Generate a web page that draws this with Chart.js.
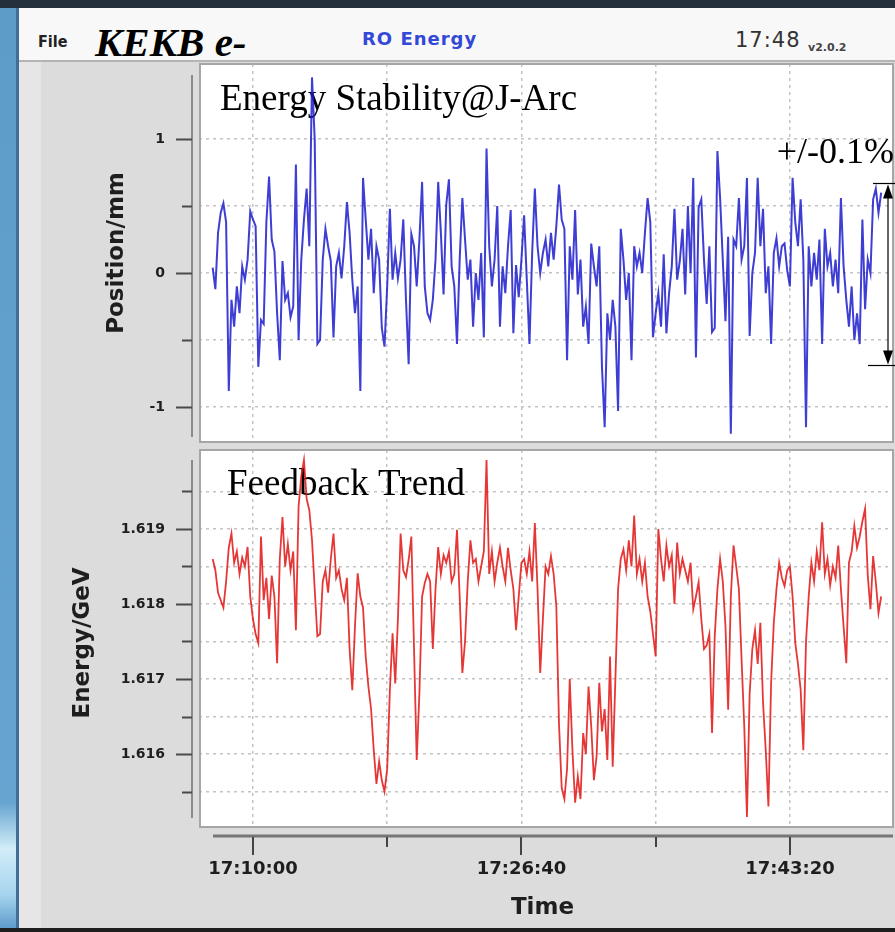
<!DOCTYPE html>
<html>
<head>
<meta charset="utf-8">
<title>KEKB e- RO Energy</title>
<script src="https://cdn.jsdelivr.net/npm/chart.js@4.4.1/dist/chart.umd.min.js"></script>
<style>
  html, body { margin: 0; padding: 0; }
  body { width: 895px; height: 932px; position: relative; overflow: hidden; background: #dcdcdc; font-family: "DejaVu Sans", sans-serif; }
  #topEdge { position: absolute; left: 0; top: 0; width: 895px; height: 8px; background: #24313d; }
  #leftEdge { position: absolute; left: 0; top: 8px; width: 16px; height: 924px;
    background: linear-gradient(to bottom, #5d9bc9 0%, #67a4d0 86%, #d2edf8 91%, #a6d4ee 96%, #5595c6 100%); }
  #leftLine { position: absolute; left: 16px; top: 8px; width: 3px; height: 924px; background: #3f6f97; }
  #bottomEdge { position: absolute; left: 0; top: 928px; width: 895px; height: 4px; background: #1e1e1e; }
  #titleBar { position: absolute; left: 19px; top: 8px; width: 876px; height: 52px; background: #f8f8f8; border-bottom: 2px solid #b4b4b4; }
  #sideStrip { position: absolute; left: 19px; top: 62px; width: 22px; height: 866px; background: #e6e6e6; }
  .tb { position: absolute; line-height: 1; white-space: nowrap; }
  #fileMenu { left: 38px; top: 32px; font: bold 16px "DejaVu Sans Condensed", "DejaVu Sans", sans-serif; color: #222; }
  #machine { left: 95px; top: 18px; font: italic bold 41px "Liberation Serif", "Times New Roman", serif; color: #000; }
  #panelName { left: 362px; top: 28px; font: bold 18px "DejaVu Sans", sans-serif; letter-spacing: 1px; color: #3348d6; }
  #clock { left: 735px; top: 28px; font: 21px "DejaVu Sans", sans-serif; letter-spacing: 1px; color: #333; }
  #version { left: 808px; top: 41px; font: bold 11px "DejaVu Sans", sans-serif; color: #444; }
  .box { position: absolute; left: 20px; }
  #posBox { top: 62px; }
  #energyBox { top: 446px; }
</style>
</head>
<body>
<div id="topEdge"></div>
<div id="titleBar"></div>
<div id="sideStrip"></div>
<div id="leftEdge"></div>
<div id="leftLine"></div>
<div id="bottomEdge"></div>
<span class="tb" id="fileMenu">File</span>
<span class="tb" id="machine">KEKB e-</span>
<span class="tb" id="panelName">RO Energy</span>
<span class="tb" id="clock">17:48</span>
<span class="tb" id="version">v2.0.2</span>

<div class="box" id="posBox"><canvas id="posChart" width="875" height="384"></canvas></div>
<div class="box" id="energyBox"><canvas id="energyChart" width="875" height="486"></canvas></div>

<script>
// sampling: seconds after 17:00:00, one reading every 10 s
const sampleStart = 450;
const sampleStep = 10;

// beam position at the J-Arc (mm)
const positionMm = [
  0.04, -0.12, 0.30, 0.45, 0.52, 0.38, -0.88, -0.20, -0.40, -0.10,
  -0.30, 0.05, -0.05, 0.10, 0.46, 0.40, 0.35, -0.70, -0.35, -0.38,
  0.38, 0.72, 0.25, 0.16, -0.30, -0.65, 0.09, -0.20, -0.15, -0.33,
  -0.25, 0.81, -0.50, 0.10, 0.40, 0.63, 0.20, 1.46, 1.00, -0.53,
  -0.50, 0.10, 0.33, 0.20, 0.09, -0.48, 0.05, 0.15, -0.04, 0.20,
  0.53, 0.30, -0.05, -0.30, -0.10, -0.88, 0.71, 0.40, 0.10, 0.33,
  -0.15, 0.20, 0.10, -0.41, -0.55, -0.10, 0.48, -0.05, 0.15, -0.04,
  0.10, 0.40, -0.20, -0.68, 0.29, 0.20, -0.10, 0.25, 0.68, -0.10,
  -0.30, -0.35, -0.20, 0.10, 0.68, 0.30, -0.16, 0.51, 0.70, 0.05,
  -0.10, -0.53, 0.10, 0.56, 0.25, -0.05, 0.10, -0.40, 0.00, -0.20,
  0.15, -0.48, 0.93, 0.20, -0.10, 0.10, 0.50, -0.40, 0.05, -0.15,
  0.20, 0.47, -0.45, 0.06, -0.18, 0.10, 0.43, -0.05, -0.53, 0.15,
  0.63, 0.20, 0.00, 0.15, 0.25, 0.05, 0.30, 0.10, 0.35, 0.66,
  0.40, 0.33, -0.65, 0.20, -0.05, 0.47, -0.16, 0.10, -0.40, -0.25,
  -0.53, 0.22, 0.05, -0.10, 0.20, -0.70, -1.15, -0.30, -0.50, -0.20,
  -0.40, -1.03, 0.33, 0.10, -0.20, 0.00, -0.65, 0.20, 0.05, 0.15,
  0.00, 0.30, 0.56, 0.38, -0.48, -0.30, -0.15, -0.40, 0.14, -0.45,
  -0.15, 0.05, 0.48, -0.05, 0.09, 0.33, -0.16, 0.50, 0.00, 0.71,
  -0.63, 0.49, 0.55, 0.10, -0.23, 0.20, -0.44, -0.41, 0.91, 0.56,
  0.10, -0.36, 0.27, -1.20, 0.25, 0.20, 0.56, 0.10, 0.20, 0.71,
  -0.47, 0.00, 0.15, 0.71, 0.20, 0.48, -0.15, 0.05, -0.53, 0.15,
  0.26, 0.05, 0.20, 0.22, 0.02, -0.10, 0.71, 0.38, 0.20, 0.55,
  0.10, -1.15, 0.20, -0.10, 0.15, -0.05, 0.25, -0.53, 0.33, 0.05,
  0.15, -0.10, 0.10, -0.15, 0.56, 0.05, -0.20, -0.40, -0.10, -0.50,
  -0.30, -0.53, 0.40, -0.27, 0.10, 0.00, 0.55, 0.63, 0.45, 0.60
];

// feedback energy setting (GeV)
const energyGeV = [
  1.6186, 1.61845, 1.61815, 1.61805, 1.61795, 1.6183, 1.61875, 1.61894, 1.61855, 1.6187,
  1.6184, 1.61862, 1.6185, 1.61876, 1.6181, 1.6178, 1.6176, 1.61748, 1.6189, 1.61805,
  1.61835, 1.6178, 1.61838, 1.6181, 1.61721, 1.6186, 1.61916, 1.6185, 1.6188, 1.61845,
  1.6187, 1.61765, 1.6193, 1.6197, 1.61992, 1.6194, 1.61925, 1.61885, 1.6182, 1.61757,
  1.6176, 1.6183, 1.61845, 1.61815, 1.6186, 1.61894, 1.61835, 1.61845, 1.6182, 1.61805,
  1.61835, 1.6174, 1.61685, 1.6177, 1.61841, 1.6181, 1.61795, 1.6173, 1.6169, 1.6166,
  1.61605, 1.6156, 1.6159, 1.61565, 1.6155, 1.6158, 1.61685, 1.61761, 1.61694, 1.6178,
  1.61894, 1.61845, 1.61836, 1.61859, 1.6189, 1.6174, 1.61592, 1.61681, 1.6181, 1.61828,
  1.6184, 1.6183, 1.6174, 1.6182, 1.61876, 1.6184, 1.61865, 1.61855, 1.6187, 1.6183,
  1.6184, 1.61899, 1.6181, 1.61708, 1.6175, 1.6183, 1.61885, 1.61855, 1.6186, 1.6183,
  1.6185, 1.6187, 1.61992, 1.6184, 1.6187, 1.6183, 1.61855, 1.61875, 1.6185, 1.6183,
  1.61875, 1.61845, 1.6182, 1.61765, 1.6181, 1.61855, 1.6186, 1.6184, 1.6187, 1.6183,
  1.61908, 1.6182, 1.61708, 1.6178, 1.6185, 1.6184, 1.61864, 1.6184, 1.61797, 1.6164,
  1.61555, 1.6154, 1.6158, 1.617, 1.61605, 1.61535, 1.6157, 1.6154, 1.61628, 1.616,
  1.6169, 1.61637, 1.61565, 1.61597, 1.61695, 1.6163, 1.6166, 1.61592, 1.6173, 1.61583,
  1.617, 1.6182, 1.6186, 1.61873, 1.61845, 1.61885, 1.6185, 1.61918, 1.6184, 1.6186,
  1.6183, 1.61855, 1.6181, 1.6179, 1.6176, 1.6173, 1.619, 1.6186, 1.6183, 1.61878,
  1.6185, 1.61865, 1.618, 1.61882, 1.6184, 1.6186, 1.61845, 1.6183, 1.61855, 1.61793,
  1.6181, 1.61829, 1.6178, 1.6174, 1.61745, 1.6176, 1.61628, 1.61757, 1.6182, 1.6186,
  1.6183, 1.6177, 1.61659, 1.6181, 1.61878, 1.6185, 1.6182, 1.61726, 1.61637, 1.61516,
  1.6168, 1.6174, 1.61765, 1.6172, 1.61775, 1.61668, 1.61605, 1.6153, 1.61695, 1.61775,
  1.6182, 1.61855, 1.61835, 1.61824, 1.61845, 1.6185, 1.6181, 1.61748, 1.6172, 1.61686,
  1.61605, 1.6175, 1.6181, 1.61855, 1.6183, 1.6187, 1.61845, 1.61909, 1.6184, 1.6186,
  1.61825, 1.6185, 1.61835, 1.61878, 1.6182, 1.6177, 1.61721, 1.61855, 1.6187, 1.61904,
  1.61875, 1.6189, 1.6191, 1.61927, 1.61838, 1.61793, 1.61864, 1.61829, 1.61788, 1.6181
];

// axis ticks and their labels ('' = minor tick)
const timeTicks = [600, 1100, 1600, 2100, 2600];
const timeLabels = ['17:10:00', '', '17:26:40', '', '17:43:20'];
const posTicks = [-1, -0.5, 0, 0.5, 1];
const posLabels = ['-1', '', '0', '', '1'];
const energyTicks = [1.6155, 1.616, 1.6165, 1.617, 1.6175, 1.618, 1.6185, 1.619, 1.6195];
const energyLabels = ['', '1.616', '', '1.617', '', '1.618', '', '1.619', ''];

// the +/-0.1% energy band on the position scale (mm)
const bandHigh = 0.67;
const bandLow = -0.69;

function toPoints(values) {
  return values.map((v, i) => ({ x: sampleStart + i * sampleStep, y: v }));
}

const panelGrey = '#dcdcdc';
const tickFont = { family: 'DejaVu Sans', size: 14, weight: 'bold' };
const titleFont = { family: 'DejaVu Sans', size: 23, weight: 'bold' };
const gridStyle = { color: '#c4c4c4', lineWidth: 1.5, drawTicks: false };
const gridBorder = { display: false, dash: [3, 4] };

function line(ctx, x1, y1, x2, y2) {
  ctx.beginPath();
  ctx.moveTo(x1, y1);
  ctx.lineTo(x2, y2);
  ctx.stroke();
}

// white plot box, detached axis lines, tick marks and labels on the plot
const panelFrame = {
  id: 'panelFrame',
  beforeDraw(chart, args, opts) {
    const { ctx, chartArea: a } = chart;
    ctx.save();
    ctx.fillStyle = '#ffffff';
    ctx.fillRect(a.left + opts.gapLeft, a.top, a.right - a.left - opts.gapLeft, a.bottom - a.top - opts.gapBottom);
    ctx.restore();
  },
  beforeDatasetsDraw(chart, args, opts) {
    const { ctx, chartArea: a, scales } = chart;
    const boxBottom = a.bottom - opts.gapBottom;
    ctx.save();
    // hide grid lines running into the gaps
    ctx.fillStyle = panelGrey;
    ctx.fillRect(a.left - 1, a.top - 1, opts.gapLeft + 1, a.bottom - a.top + 2);
    if (opts.gapBottom) ctx.fillRect(a.left, boxBottom, a.right - a.left + 2, opts.gapBottom + 1);

    ctx.strokeStyle = '#a6a6a6';
    ctx.lineWidth = 2;
    ctx.strokeRect(a.left + opts.gapLeft, a.top, a.right - a.left - opts.gapLeft, boxBottom - a.top);

    // y axis
    const y = scales.y;
    ctx.strokeStyle = '#8a8a8a';
    ctx.lineWidth = 2;
    line(ctx, a.left, a.top + opts.yInset[0], a.left, a.bottom - opts.yInset[1]);
    ctx.strokeStyle = '#4a4a4a';
    y.ticks.forEach(t => {
      const py = Math.round(y.getPixelForValue(t.value)) + 0.5;
      line(ctx, a.left - (t.label ? 16 : 10), py, a.left, py);
    });

    // time axis
    if (opts.timeAxis) {
      const x = scales.x;
      ctx.strokeStyle = '#767676';
      ctx.lineWidth = 3;
      line(ctx, a.left + 21, a.bottom, a.right, a.bottom);
      ctx.strokeStyle = '#444';
      ctx.lineWidth = 2;
      x.ticks.forEach(t => {
        const px = Math.round(x.getPixelForValue(t.value));
        line(ctx, px, a.bottom + 1, px, a.bottom + (t.label ? 19 : 11));
      });
    }

    // panel caption
    ctx.fillStyle = '#000';
    ctx.font = opts.captionSize + 'px "Liberation Serif", "Times New Roman", serif';
    ctx.textBaseline = 'alphabetic';
    ctx.fillText(opts.caption, a.left + opts.captionX, a.top + opts.captionY);
    ctx.restore();
  },
  afterDraw(chart, args, opts) {
    if (!opts.band) return;
    const { ctx, chartArea: a, scales } = chart;
    const yTop = Math.round(scales.y.getPixelForValue(opts.band[0])) + 0.5;
    const yBot = Math.round(scales.y.getPixelForValue(opts.band[1])) + 0.5;
    const xa = a.right - 5;
    ctx.save();
    ctx.strokeStyle = '#000';
    ctx.fillStyle = '#000';
    ctx.lineWidth = 1.2;
    line(ctx, a.right - 20, yTop, a.right + 2, yTop);
    line(ctx, a.right - 25, yBot, a.right + 2, yBot);
    line(ctx, xa, yTop + 10, xa, yBot - 10);
    ctx.beginPath();
    ctx.moveTo(xa, yTop + 1); ctx.lineTo(xa - 5, yTop + 15); ctx.lineTo(xa + 5, yTop + 15); ctx.closePath();
    ctx.fill();
    ctx.beginPath();
    ctx.moveTo(xa, yBot - 1); ctx.lineTo(xa - 5, yBot - 15); ctx.lineTo(xa + 5, yBot - 15); ctx.closePath();
    ctx.fill();
    ctx.font = '36px "Liberation Serif", "Times New Roman", serif';
    ctx.textAlign = 'right';
    ctx.fillText(opts.bandText, a.right + 1, yTop - 21);
    ctx.restore();
  }
};

// fixed axis sizes, without the label overhang Chart.js would reserve
function fixWidth(s) {
  s.width = 172;
  s.paddingTop = 0;
  s.paddingBottom = 0;
}

function timeAxis(showLabels) {
  return {
    type: 'linear',
    min: 373,
    max: 2984,
    afterBuildTicks: s => { s.ticks = timeTicks.map(v => ({ value: v })); },
    afterFit: s => { s.height = showLabels ? 96 : 0; s.paddingLeft = 0; s.paddingRight = 0; },
    ticks: {
      display: showLabels,
      autoSkip: false,
      maxRotation: 0,
      padding: 23,
      color: '#1e1e1e',
      font: { family: 'DejaVu Sans', size: 18, weight: 'bold' },
      callback: (v, i) => timeLabels[i]
    },
    grid: gridStyle,
    border: gridBorder,
    title: {
      display: showLabels,
      text: 'Time',
      color: '#1e1e1e',
      font: titleFont,
      padding: { top: 0, bottom: 10 }
    }
  };
}

new Chart(document.getElementById('posChart'), {
  type: 'line',
  data: {
    datasets: [{
      data: toPoints(positionMm),
      borderColor: 'rgba(28, 28, 205, 0.85)',
      borderWidth: 2,
      pointRadius: 0,
      tension: 0
    }]
  },
  options: {
    responsive: false,
    animation: false,
    events: [],
    layout: { padding: { top: 2, right: 2, bottom: 4, left: 0 } },
    plugins: {
      legend: { display: false },
      tooltip: { enabled: false },
      panelFrame: {
        gapLeft: 8, gapBottom: 0, yInset: [11, 5], timeAxis: false,
        caption: 'Energy Stability@J-Arc', captionSize: 37, captionX: 28, captionY: 46,
        band: [bandHigh, bandLow], bandText: '+/-0.1%'
      }
    },
    scales: {
      x: timeAxis(false),
      y: {
        min: -1.261,
        max: 1.56,
        afterBuildTicks: s => { s.ticks = posTicks.map(v => ({ value: v })); },
        afterFit: fixWidth,
        ticks: { autoSkip: false, padding: 27, color: '#1e1e1e', font: tickFont, callback: (v, i) => posLabels[i] },
        grid: gridStyle,
        border: gridBorder,
        title: { display: true, text: 'Position/mm', color: '#1e1e1e', font: titleFont, padding: { top: 83, bottom: 0 } }
      }
    }
  },
  plugins: [panelFrame]
});

new Chart(document.getElementById('energyChart'), {
  type: 'line',
  data: {
    datasets: [{
      data: toPoints(energyGeV),
      borderColor: 'rgba(226, 20, 20, 0.85)',
      borderWidth: 1.8,
      pointRadius: 0,
      tension: 0
    }]
  },
  options: {
    responsive: false,
    animation: false,
    events: [],
    layout: { padding: { top: 4, right: 2, bottom: 0, left: 0 } },
    plugins: {
      legend: { display: false },
      tooltip: { enabled: false },
      panelFrame: {
        gapLeft: 8, gapBottom: 9, yInset: [10, 18], timeAxis: true,
        caption: 'Feedback Trend', captionSize: 37, captionX: 35, captionY: 45
      }
    },
    scales: {
      x: timeAxis(true),
      y: {
        min: 1.614907,
        max: 1.620053,
        afterBuildTicks: s => { s.ticks = energyTicks.map(v => ({ value: v })); },
        afterFit: fixWidth,
        ticks: { autoSkip: false, padding: 27, color: '#1e1e1e', font: tickFont, callback: (v, i) => energyLabels[i] },
        grid: gridStyle,
        border: gridBorder,
        title: { display: true, text: 'Energy/GeV', color: '#1e1e1e', font: titleFont, padding: { top: 49, bottom: 0 } }
      }
    }
  },
  plugins: [panelFrame]
});
</script>
</body>
</html>
